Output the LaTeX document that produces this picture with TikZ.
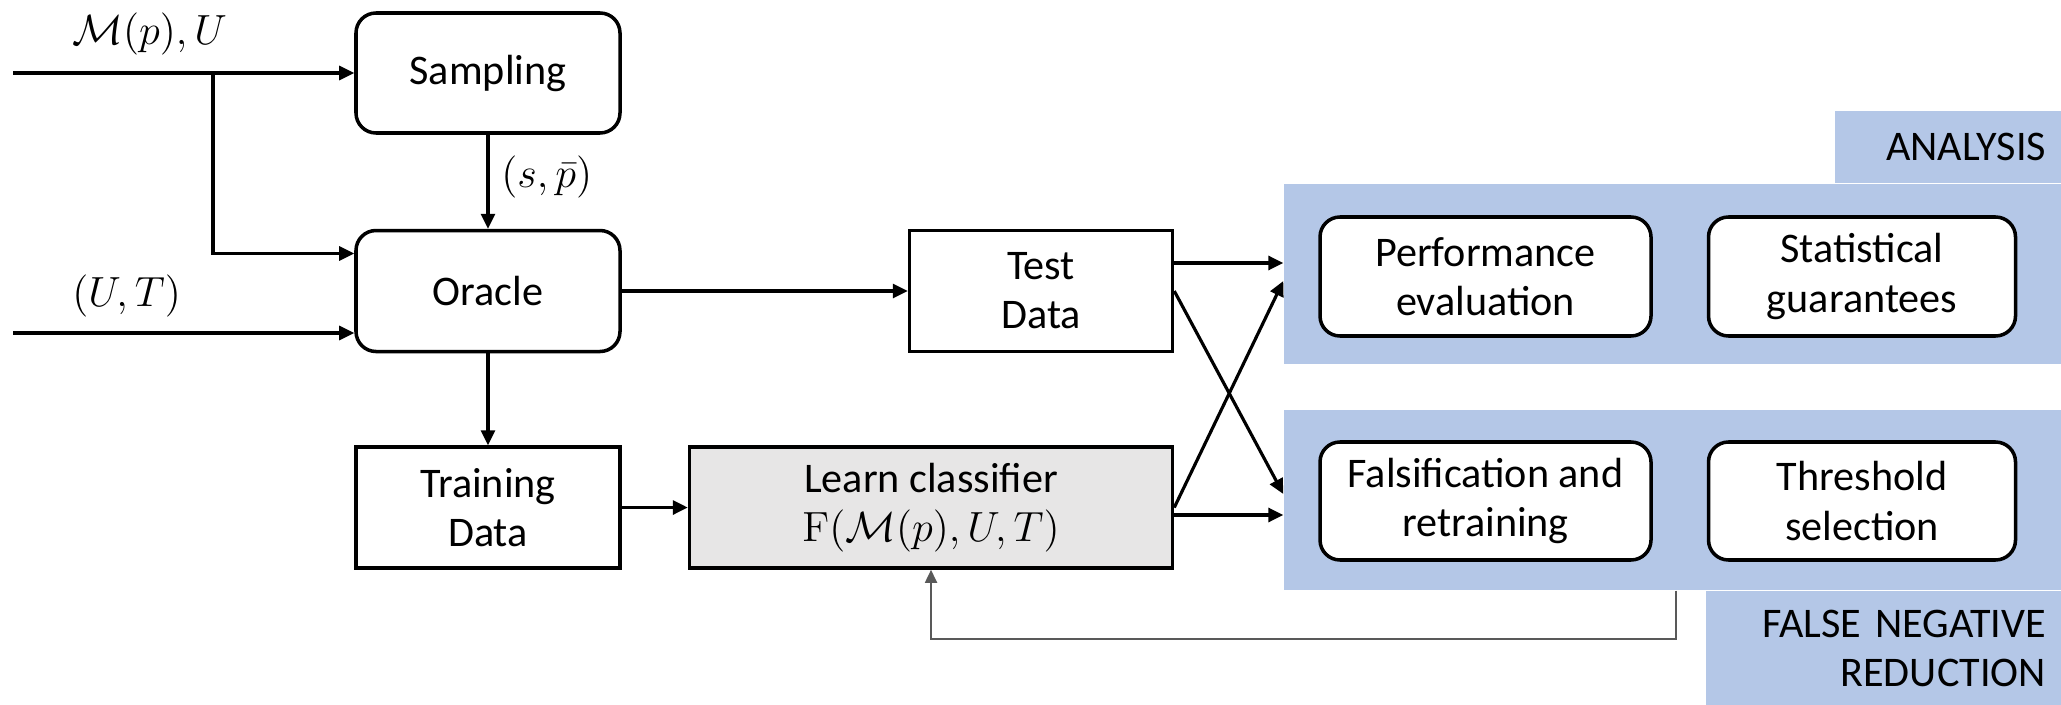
\documentclass[tikz,border=0pt]{standalone}
\usepackage[no-math]{fontspec}
\setmainfont{Carlito}
\usepackage{tikz}
\usetikzlibrary{arrows.meta, positioning}
\definecolor{bandblue}{HTML}{B4C7E7}
\definecolor{learngray}{HTML}{E7E6E6}
\definecolor{fbgray}{HTML}{595959}

\begin{document}
\begin{tikzpicture}
[font=\fontsize{12}{14}\selectfont,
   arr/.style={line width=0.9pt, -{Triangle[length=1.5mm, width=1.4mm]}},
   fback/.style={line width=0.5pt, draw=fbgray, -{Triangle[length=1.3mm, width=1.2mm]}},
   rbox/.style={shape=rectangle, rounded corners=2mm, draw, line width=1pt, fill=white, align=center, minimum height=1.2cm},
   sbox/.style={shape=rectangle, draw, line width=1pt, align=center, minimum height=1.21cm},
   band/.style={shape=rectangle, fill=bandblue, inner sep=0pt},
   bandtab/.style={shape=rectangle, fill=bandblue, inner xsep=0.15cm, inner ysep=0pt, align=right}]
\useasboundingbox (0,0) rectangle (20.61,7.04);
% blue groups
\node[band, minimum width=7.77cm, minimum height=1.8cm] (ana) at (16.725, 4.30) {};
\node[bandtab, text width=1.96cm, minimum height=0.72cm, anchor=south east] (anatab) at (ana.north east) {ANALYSIS};
\node[band, minimum width=7.77cm, minimum height=1.8cm] (fnr) at (16.725, 2.04) {};
\node[bandtab, text width=3.25cm, minimum height=1.14cm, anchor=north east] (fnrtab) at (fnr.south east) {FALSE NEGATIVE\\REDUCTION};
% main flow
\node[rbox, minimum width=2.64cm] (Sampling) at (4.88, 6.31) {Sampling};
\node[rbox, minimum width=2.64cm, minimum height=1.21cm] (Oracle) [below=0.94 of Sampling] {Oracle};
\node[sbox, minimum width=2.64cm] (Training) [below=0.92 of Oracle] {Training\\Data};
\node[sbox, minimum width=4.83cm, fill=learngray] (Learn) [right=0.66 of Training] {Learn classifier\\$\mathrm{F}(\mathcal{M}(p),U,T)$};
\node[sbox, minimum width=2.63cm, anchor=east] (Test) at (Learn.east |- Oracle) {Test\\Data};
\node[rbox, minimum width=3.31cm, minimum height=1.19cm] (Perf) at (14.855, 4.275) {Performance\\evaluation};
\node[rbox, minimum width=3.07cm, minimum height=1.19cm] (Stat) [right=0.54 of Perf] {Statistical\\guarantees};
\node[rbox, minimum width=3.31cm, minimum height=1.18cm] (Falsif) at (14.855, 2.03) {Falsification and\\retraining};
\node[rbox, minimum width=3.07cm, minimum height=1.18cm] (Thresh) [right=0.54 of Falsif] {Threshold\\selection};
% inputs
\coordinate (inA) at (0.13, 6.31);
\coordinate (br) at (2.13, 6.31);
\coordinate (inB) at (0.13, 3.71);
\node[anchor=west] (lblM) at (0.60, 6.70) {$\mathcal{M}(p),U$};
\node[anchor=west] (lblUT) at (0.60, 4.08) {$(U,T)$};
\draw[arr] (inA) -- (Sampling.west);
\draw[arr] (br) |- ([yshift=3.75mm]Oracle.west);
\draw[arr] (inB) -- (inB -| Oracle.west);
\draw[arr] (Sampling) -- (Oracle) node[pos=0.45, right] {$(s,\bar{p})$};
\draw[arr] (Oracle) -- (Training);
\draw[arr] (Training) -- (Learn);
\draw[arr] (Oracle) -- (Test);
% into the groups
\coordinate (a1) at ([yshift=1.1mm]ana.west);
\coordinate (a2) at ([yshift=-0.7mm]ana.west);
\coordinate (f1) at ([yshift=0.6mm]fnr.west);
\coordinate (f2) at ([yshift=-1.5mm]fnr.west);
\draw[arr] (Test.east |- a1) -- (a1);
\draw[arr] (Test.east) -- (f1);
\draw[arr] (Learn.east) -- (a2);
\draw[arr] (Learn.east |- f2) -- (f2);
% retraining loop
\coordinate (fb) at (16.76, 0.65);
\draw[fback] (fb |- fnr.south) -- (fb) -| (Learn.south);
\end{tikzpicture}
\end{document}
